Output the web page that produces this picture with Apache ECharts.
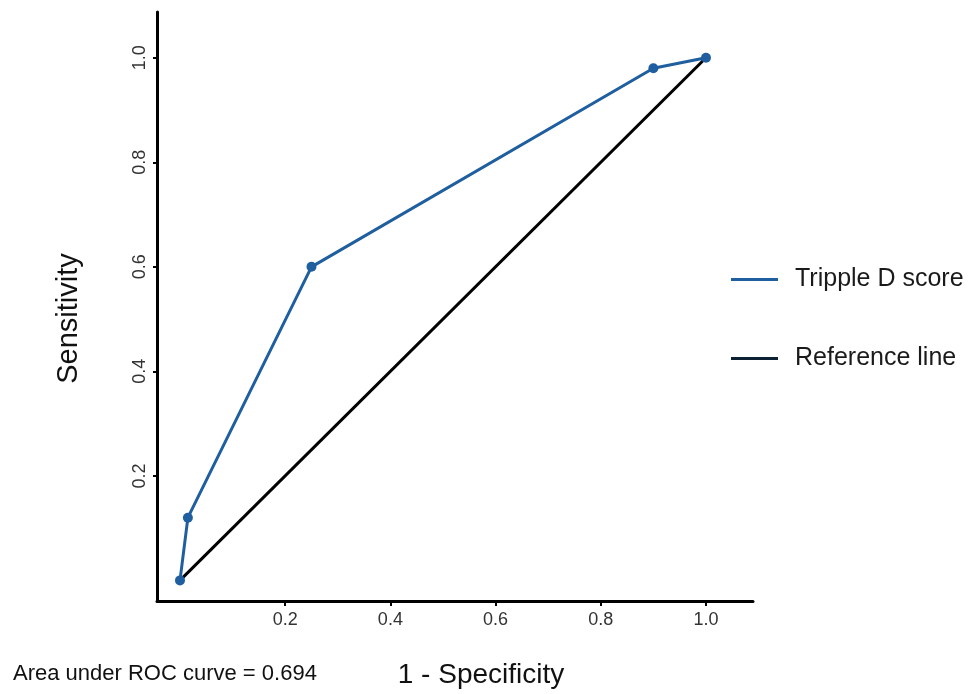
<!DOCTYPE html>
<html>
<head>
<meta charset="utf-8">
<title>ROC curve</title>
<script src="https://cdn.jsdelivr.net/npm/echarts@6/dist/echarts.min.js"></script>
<style>
  html, body { margin: 0; padding: 0; background: #fff; }
  #chart { width: 971px; height: 694px; }
</style>
</head>
<body>
<div id="chart"></div>
<script>
// ROC points (1 - specificity, sensitivity)
const rocX = [0, 0.015, 0.25, 0.9, 1.0];
const rocY = [0, 0.12, 0.6, 0.98, 1.0];
// diagonal reference
const refX = [0, 1];
const refY = [0, 1];
const tickValues = [0.2, 0.4, 0.6, 0.8, 1.0];
const seriesNames = ['Tripple D score', 'Reference line'];
const aucText = 'Area under ROC curve = 0.694';

const chart = echarts.init(document.getElementById('chart'));

const font = 'Liberation Sans, Arial, sans-serif';

const option = {
  animation: false,
  grid: { left: 157, top: 12, right: 218, bottom: 90, containLabel: false },
  legend: {
    orient: 'vertical',
    left: 726,
    top: 262,
    itemWidth: 47,
    itemHeight: 3,
    itemGap: 54,
    icon: 'rect',
    textStyle: { fontSize: 25, color: '#1a1a1a', fontFamily: font, padding: [0, 0, 0, 12] },
    data: [
      { name: seriesNames[0], itemStyle: { color: '#1f5f9f' } },
      { name: seriesNames[1], itemStyle: { color: '#0d2135' } }
    ]
  },
  xAxis: {
    type: 'value',
    min: -0.0437,
    max: 1.0894,
    name: '1 - Specificity',
    nameLocation: 'middle',
    nameGap: 60,
    nameTextStyle: { fontSize: 28, color: '#111', fontFamily: font, padding: [0, 0, 0, 52] },
    axisLine: { show: true, onZero: false, lineStyle: { color: '#000', width: 3 } },
    axisTick: { show: true, length: 5, lineStyle: { color: '#000', width: 2 }, customValues: tickValues },
    axisLabel: {
      customValues: tickValues,
      fontSize: 18, color: '#333', fontFamily: font, margin: 10,
      formatter: v => v.toFixed(1)
    },
    splitLine: { show: false }
  },
  yAxis: {
    type: 'value',
    min: -0.0394,
    max: 1.0876,
    name: 'Sensitivity',
    nameLocation: 'middle',
    nameRotate: 90,
    nameGap: 74,
    nameTextStyle: { fontSize: 29, color: '#111', fontFamily: font, padding: [0, 24, 0, 0] },
    axisLine: { show: true, onZero: false, lineStyle: { color: '#000', width: 3 } },
    axisTick: { show: true, length: 4, lineStyle: { color: '#000', width: 2 }, customValues: tickValues },
    axisLabel: {
      customValues: tickValues,
      rotate: 90,
      fontSize: 18, color: '#333', fontFamily: font, margin: 8,
      formatter: v => v.toFixed(1)
    },
    splitLine: { show: false }
  },
  graphic: [
    {
      type: 'text',
      left: 13,
      top: 663,
      style: { text: aucText, fontSize: 22, fill: '#111', fontFamily: font }
    }
  ],
  series: [
    {
      name: seriesNames[1],
      type: 'line',
      data: refX.map((x, i) => [x, refY[i]]),
      showSymbol: false,
      lineStyle: { color: '#000', width: 3 },
      itemStyle: { color: '#0d2135' },
      z: 2
    },
    {
      name: seriesNames[0],
      type: 'line',
      data: rocX.map((x, i) => [x, rocY[i]]),
      symbol: 'circle',
      symbolSize: 10,
      lineStyle: { color: '#1f5f9f', width: 3 },
      itemStyle: { color: '#1f5f9f' },
      z: 3
    }
  ]
};

chart.setOption(option);
</script>
</body>
</html>
